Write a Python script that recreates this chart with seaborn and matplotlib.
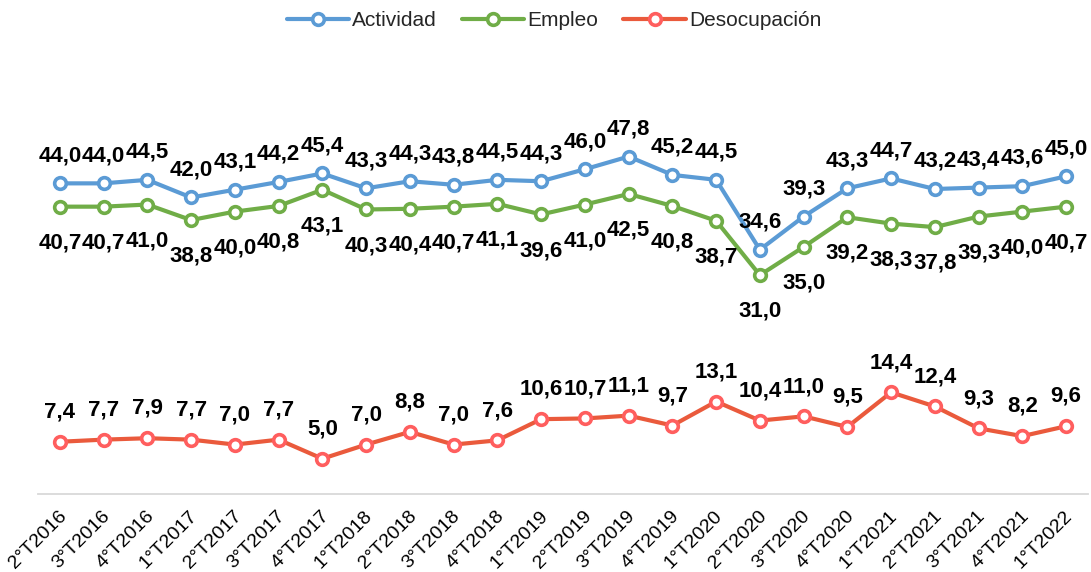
import matplotlib
matplotlib.use("Agg")
import matplotlib.pyplot as plt
import matplotlib.transforms as mtransforms
import seaborn as sns
import pandas as pd

categories = ["2°T2016", "3°T2016", "4°T2016", "1°T2017", "2°T2017", "3°T2017",
              "4°T2017", "1°T2018", "2°T2018", "3°T2018", "4°T2018", "1°T2019",
              "2°T2019", "3°T2019", "4°T2019", "1°T2020", "2°T2020", "3°T2020",
              "4°T2020", "1°T2021", "2°T2021", "3°T2021", "4°T2021", "1°T2022"]
actividad = [44.0, 44.0, 44.5, 42.0, 43.1, 44.2, 45.4, 43.3, 44.3, 43.8, 44.5, 44.3,
             46.0, 47.8, 45.2, 44.5, 34.6, 39.3, 43.3, 44.7, 43.2, 43.4, 43.6, 45.0]
empleo = [40.7, 40.7, 41.0, 38.8, 40.0, 40.8, 43.1, 40.3, 40.4, 40.7, 41.1, 39.6,
          41.0, 42.5, 40.8, 38.7, 31.0, 35.0, 39.2, 38.3, 37.8, 39.3, 40.0, 40.7]
desocupacion = [7.4, 7.7, 7.9, 7.7, 7.0, 7.7, 5.0, 7.0, 8.8, 7.0, 7.6, 10.6,
                10.7, 11.1, 9.7, 13.1, 10.4, 11.0, 9.5, 14.4, 12.4, 9.3, 8.2, 9.6]

sns.set_theme(style="white")
plt.rcParams['font.family'] = ['Liberation Sans', 'DejaVu Sans']

fig = plt.figure(figsize=(10.91, 5.72), dpi=100)
ax = fig.add_axes([38 / 1091, 1 - 494 / 572, 1050 / 1091, 423.6 / 572])

series = [
    ("Actividad", actividad, "#5B9BD5", "#5B9BD5", 16, 'baseline'),
    ("Empleo", empleo, "#70AD47", "#70AD47", -18.5, 'top'),
    ("Desocupación", desocupacion, "#EA5A3C", "#FF5E5E", 17.5, 'baseline'),
]

zmap = {"Empleo": 2, "Actividad": 3, "Desocupación": 3}

for name, vals, lc, mc, off, va in series:
    df = pd.DataFrame({"cat": categories, "val": vals})
    sns.lineplot(data=df, x="cat", y="val", ax=ax, color=lc, linewidth=3.0,
                 marker="o", markersize=8.4, markerfacecolor="white",
                 markeredgecolor=mc, markeredgewidth=2.6, label=name,
                 sort=False, zorder=zmap[name])
    for i, v in enumerate(vals):
        ax.annotate(f"{v:.1f}".replace(".", ","), (i, v), xytext=(0, off),
                    textcoords="offset points", ha="center", va=va,
                    fontsize=16, fontweight="bold", color="black", zorder=5)

ax.set_xlim(-0.5, len(categories) - 0.5)
ax.set_ylim(0, 60)
ax.set_xlabel("")
ax.set_ylabel("")
ax.set_yticks([])
for s in ["top", "right", "left"]:
    ax.spines[s].set_visible(False)
ax.spines["bottom"].set_color("#D9D9D9")
ax.spines["bottom"].set_linewidth(1.3)
ax.spines["bottom"].set_zorder(0)
ax.tick_params(axis="x", length=0, pad=14, labelsize=14, labelcolor="black")
shift = mtransforms.ScaledTranslation(4 / 100, 0, fig.dpi_scale_trans)
for lbl in ax.get_xticklabels():
    lbl.set_rotation(45)
    lbl.set_ha("right")
    lbl.set_va("center")
    lbl.set_rotation_mode("anchor")
    lbl.set_transform(lbl.get_transform() + shift)

handles, labels = ax.get_legend_handles_labels()
if ax.get_legend() is not None:
    ax.get_legend().remove()
fig.legend(handles, labels, loc="center", bbox_to_anchor=(554 / 1091, 1 - 21 / 572),
           ncol=3, frameon=False, fontsize=15, handlelength=3.0,
           handletextpad=0.15, columnspacing=1.2)

fig.savefig("out.png", dpi=100)
